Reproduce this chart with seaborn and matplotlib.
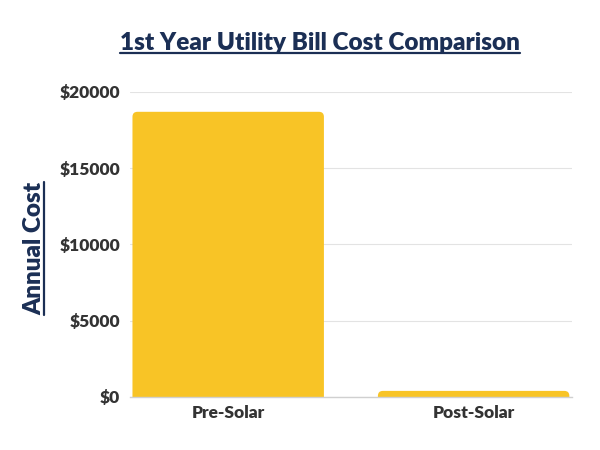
import numpy as np
import pandas as pd
import matplotlib
matplotlib.use('Agg')
import matplotlib.pyplot as plt
import seaborn as sns
from matplotlib.patches import FancyBboxPatch
from matplotlib.lines import Line2D

# data
categories = ["Pre-Solar", "Post-Solar"]
annual_cost = [18700, 400]
yticks = [0, 5000, 10000, 15000, 20000]

bar_color = "#F8C426"
navy = "#1B2F55"
tick_color = "#333333"

sns.set_theme(style="whitegrid")
plt.rcParams['font.family'] = ['Lato', 'DejaVu Sans']

df = pd.DataFrame({"category": categories, "cost": annual_cost})

fig = plt.figure(figsize=(6, 4.5), dpi=100)
ax = fig.add_axes([0.2167, 0.1178, 0.7363, 0.6778])

sns.barplot(data=df, x="category", y="cost", color=bar_color, width=0.78,
            saturation=1, ax=ax)
ax.set_xlim(-0.4, 1.4)
ax.set_ylim(0, 20000)

# swap plain bars for ones with rounded corners
px_x = 1.8 / (0.7363 * 600)
px_y = 20000 / (0.6778 * 450)
radius = 5 * px_x
for p in list(ax.patches):
    x0, w, h = p.get_x(), p.get_width(), p.get_height()
    extra = 8 * px_y
    rb = FancyBboxPatch((x0, -extra), w, h + extra,
                        boxstyle=f"round,pad=0,rounding_size={radius}",
                        mutation_aspect=px_y / px_x,
                        facecolor=bar_color, edgecolor="none", zorder=2)
    rb.set_clip_on(True)
    p.remove()
    ax.add_patch(rb)

ax.set_yticks(yticks)
ax.set_yticklabels([f"${v}" for v in yticks])
ax.tick_params(axis='y', labelsize=12.5, colors=tick_color, length=0, pad=7)
ax.tick_params(axis='x', labelsize=12.5, colors=tick_color, length=0, pad=6)
for lab in ax.get_yticklabels() + ax.get_xticklabels():
    lab.set_fontweight('heavy')
    lab.set_color(tick_color)

ax.grid(axis='y', color="#E3E3E3", linewidth=0.8)
ax.grid(axis='x', visible=False)
ax.set_axisbelow(True)
for s in ["top", "right", "left"]:
    ax.spines[s].set_visible(False)
ax.spines["bottom"].set_color("#D0D0D0")
ax.spines["bottom"].set_linewidth(1)
ax.set_xlabel("")
ax.set_ylabel("")

title = fig.text(0.533, 0.905, "1st Year Utility Bill Cost Comparison",
                 ha="center", va="center", fontsize=17.5, fontweight="heavy",
                 color=navy)
ylab = fig.text(0.057, 0.447, "Annual Cost", ha="center", va="center",
                rotation=90, fontsize=17.5, fontweight="heavy", color=navy)

# underline both texts
fig.canvas.draw()
r = fig.canvas.get_renderer()
inv = fig.transFigure.inverted()
bb = title.get_window_extent(r).transformed(inv)
fig.add_artist(Line2D([bb.x0, bb.x1], [bb.y0 + 0.002, bb.y0 + 0.002],
                      color=navy, linewidth=1.6, transform=fig.transFigure))
bb = ylab.get_window_extent(r).transformed(inv)
fig.add_artist(Line2D([bb.x1 - 0.002, bb.x1 - 0.002], [bb.y0, bb.y1],
                      color=navy, linewidth=1.6, transform=fig.transFigure))

fig.savefig("out.png", dpi=100)
